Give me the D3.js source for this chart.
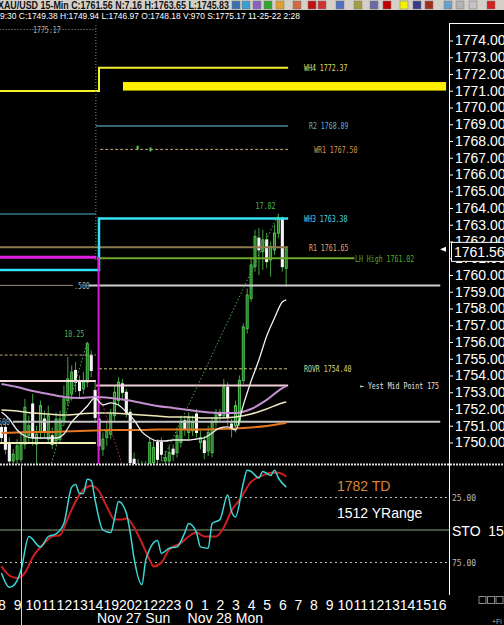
<!DOCTYPE html>
<html>
<head>
<meta charset="utf-8">
<script src="https://cdn.jsdelivr.net/npm/d3@7"></script>
<style>
  body { margin: 0; background: #000; overflow: hidden; }
  svg { display: block; font-family: "Liberation Sans", Arial, sans-serif; }
</style>
</head>
<body>
<svg id="chart" width="504" height="625"></svg>
<script>
// XAU/USD 15-min bars, Fri 25 Nov 8:00 -> Mon 28 Nov 6:00
var barOpen  = [1750.9,1750.9,1750.0,1748.9,1749.0,1749.0,1749.9,1750.4,1752.3,1749.9,1750.6,1751.4,1750.2,1750.4,1750.1,1750.2,1751.3,1752.5,1752.9,1754.3,1753.7,1753.2,1753.6,1755.2,1753.1,
                1751.4,1749.6,1750.3,1750.5,1751.6,1752.5,1753.5,1753.0,1751.8,1749.0,1748.2,1748.6,1748.0,1748.7,1748.8,1750.0,1750.0,1748.9,1748.9,1749.6,1749.4,1750.0,1751.3,1750.6,
                1750.7,1751.7,1750.0,1750.1,1749.5,1749.4,1751.2,1751.8,1751.6,1753.3,1751.1,1751.0,1751.3,1753.7,1756.8,1758.6,1760.5,1762.2,1761.4,1762.1,1760.9,1761.5,1762.5,1763.3,1760.4];
var barHigh  = [1751.1,1751.2,1750.3,1749.6,1750.2,1750.6,1752.6,1751.6,1752.9,1751.0,1752.5,1751.9,1752.2,1750.9,1751.8,1751.9,1753.4,1755.1,1754.6,1754.8,1754.0,1754.2,1756.0,1755.5,1753.6,
                1751.8,1750.6,1751.2,1752.0,1753.4,1753.9,1753.8,1753.2,1752.0,1749.4,1749.0,1748.9,1748.9,1750.3,1750.2,1750.2,1750.3,1749.5,1749.8,1749.9,1750.9,1751.6,1751.6,1751.8,
                1751.6,1752.0,1750.7,1750.4,1751.0,1751.5,1752.0,1752.0,1753.8,1753.6,1751.4,1752.5,1754.0,1757.1,1759.2,1761.0,1762.7,1762.8,1762.7,1762.5,1762.0,1763.0,1763.65,1763.5,1761.7];
var barLow   = [1750.0,1749.3,1748.5,1748.3,1748.7,1748.8,1749.6,1750.0,1749.8,1745.75,1750.2,1750.3,1749.9,1749.6,1749.8,1749.9,1751.0,1752.2,1752.5,1753.0,1752.6,1752.9,1753.3,1753.9,1751.2,
                1749.5,1749.2,1749.8,1750.2,1751.3,1752.2,1752.6,1751.5,1748.3,1748.0,1745.83,1747.6,1747.6,1748.5,1748.6,1748.7,1748.9,1748.5,1748.6,1748.9,1749.1,1749.7,1750.4,1750.2,
                1750.4,1750.3,1749.6,1749.0,1749.2,1749.1,1750.9,1751.3,1751.4,1751.0,1750.3,1750.6,1751.0,1753.5,1756.5,1758.4,1760.2,1760.0,1760.3,1760.4,1759.9,1761.2,1762.2,1760.2,1759.3];
var barClose = [1750.3,1749.6,1748.9,1749.3,1749.8,1750.0,1752.1,1751.0,1750.3,1750.5,1752.2,1750.7,1751.6,1749.9,1751.4,1751.4,1752.6,1753.8,1754.2,1753.6,1753.1,1753.6,1755.9,1754.3,1751.5,
                1749.8,1750.2,1750.7,1751.7,1753.0,1753.6,1753.0,1751.8,1748.8,1748.6,1748.6,1748.0,1748.5,1750.0,1749.7,1749.0,1749.3,1749.1,1749.4,1749.3,1750.4,1751.2,1750.8,1751.5,
                1751.2,1750.6,1750.3,1749.4,1750.6,1751.2,1751.8,1751.6,1753.3,1751.5,1750.9,1752.2,1753.7,1756.9,1758.8,1760.6,1762.3,1761.5,1762.1,1760.8,1761.7,1762.5,1763.4,1760.5,1761.56];

// moving averages, read every hour (slow) or every half hour (fast)
var maBars   = [0,4,8,12,16,20,24,28,32,36,40,44,48,52,56,60,64,68,72,73];
var maPurple = [1753.49,1753.31,1753.07,1752.90,1752.72,1752.66,1752.72,1752.66,1752.54,1752.36,1752.18,1752.06,1751.94,1751.82,1751.76,1751.76,1752.00,1752.54,1753.25,1753.37];
var maCream  = [1751.94,1751.88,1751.76,1751.70,1751.64,1751.70,1751.76,1751.76,1751.70,1751.64,1751.58,1751.52,1751.52,1751.46,1751.46,1751.52,1751.70,1752.00,1752.36,1752.42];
var maOrange = [1750.57,1750.60,1750.63,1750.63,1750.66,1750.69,1750.72,1750.75,1750.75,1750.75,1750.78,1750.78,1750.78,1750.78,1750.81,1750.84,1750.90,1750.99,1751.13,1751.16];
var fastBars = [0,2,4,6,8,10,12,14,16,18,20,22,24,26,28,30,32,34,36,38,40,42,44,46,48,50,52,54,56,58,60,62,64,66,68,70,72,73];
var maWhite  = [1751.82,1751.40,1750.75,1750.39,1750.27,1750.27,1750.27,1750.27,1750.51,1751.22,1751.70,1752.18,1752.66,1752.24,1752.36,1752.24,1751.82,1751.34,1750.63,1750.27,
                1750.09,1750.09,1750.15,1750.15,1750.15,1750.21,1750.27,1750.57,1750.87,1750.93,1750.75,1752.24,1753.67,1754.93,1756.36,1757.43,1758.39,1758.51];

// stochastic 15 (%K cyan, %D red)
var kBars = [0,2,3,5,7,10,12,14,16,18,19,20,21,22,23,24,26,28,29,30,32,33,34,36,37,40,41,43,45,47,48,50,51,53,54,56,58,59,60,62,63,64,66,67,69,70,71,73];
var kVals = [83,94,93,81,55,63,55,53,45,17,15,22,22,11,12,27,50,52,41,28,37,52,72,92,73,58,68,64,63,52,45,52,63,64,45,42,23,36,40,14,4,5,10,5,8,4,10,17];
var dBars = [0,2,4,6,8,11,13,15,17,19,21,23,25,27,29,31,32,34,36,38,39,41,43,46,48,50,52,55,57,59,61,64,67,69,71,73];
var dVals = [78,85,87,83,71,60,55,54,41,28,19,16,20,32,42,42,41,48,60,73,78,75,65,60,55,52,55,55,48,35,27,13,8,6,6,9];

// weekly levels that step up at the Sunday open
var stepNames = ['WH4', 'WH3'];
var stepPrev  = [1770.98, 1760.30];
var stepNow   = [1772.37, 1763.38];
var sessionBar = 25;

// flat levels: price, first bar, last bar
var levelNames = ['R2', 'WR1', 'R1', 'LH High', 'ROVR', 'Yest Mid', 'prevTeal', 'prevMagenta', 'prevDash', 'prevMid', 'prevLow', 'fib500L', 'fib500', 'fib500b', 'sHigh'];
var levelVals  = [1768.89, 1767.50, 1761.65, 1761.00, 1754.40, 1753.40, 1763.64, 1761.06, 1755.22, 1753.67, 1749.97, 1759.38, 1759.38, 1751.24, 1775.17];
var levelFrom  = [24.2, 25.3, -0.5, 24.5, 25, 24.3, -0.5, -0.5, -0.5, -0.5, -0.5, -0.5, 22.4, 2.95, -0.5];
var levelTo    = [73.5, 73.5, 73.5, 90.5, 73.5, 73.5, 24.2, 24.3, 24.2, 24.2, 24.2, 18.3, 112.5, 112.5, 24.2];
var levelText  = ['R2 1768.89', 'WR1 1767.50', 'R1 1761.65', 'LH High 1761.02', 'ROVR 1754.40', '\u2190 Yest Mid Point 175', '', '', '', '', '', '', '.500', '500', '1775.17'];
var stepText   = ['WH4 1772.37', 'WH3 1763.38'];

// highlighted zone
var zoneTop = 1771.52, zoneBottom = 1771.01, zoneFrom = 31.15, zoneTo = 114;

// swings: from bar/price to bar/price
var swingFromBar = [9, 24, 35];
var swingFromVal = [1745.75, 1753.6, 1745.83];
var swingToBar   = [22, 35, 71];
var swingToVal   = [1756.0, 1745.83, 1763.65];
var swingText    = ['10.25', '', '17.82'];

var markBars = [34.9, 38.2];
var markVals = [1767.6, 1767.5];

var hourLabels = ['8','9','10','11','12','13','14','19','20','21','22','23','0','1','2','3','4','5','6','7','8','9','10','11','12','13','14','15','16'];
var dateLabels = ['Nov 27 Sun', 'Nov 28 Mon'];
var dateBars   = [24.5, 47.7];
var priceTicks = d3.range(1750, 1775);
var stochTicks = [25, 75];
var lastPrice  = 1761.56;

var titleText  = 'XAU/USD 15-Min C:1761.56 N:7.16 H:1763.65 L:1745.83';
var cursorText = '9:30 C:1749.38 H:1749.94 L:1746.97 O:1748.18 V:970 S:1775.17 11-25-22 2:28';

// ---------------------------------------------------------------------
var W = 504, H = 625;
var mono = '"DejaVu Sans Mono", monospace';
var svg = d3.select('#chart');
svg.append('rect').attr('width', W).attr('height', H).attr('fill', '#000');

var x  = d3.scaleLinear().domain([0, 73]).range([1.5, 286.2]);
var y  = d3.scaleLinear().domain([1750, 1774]).range([442.5, 40.5]);
var ys = d3.scaleLinear().domain([0, 100]).range([465, 595]);

var defs = svg.append('defs');
defs.append('clipPath').attr('id', 'clipMain').append('rect').attr('x', 0).attr('y', 21).attr('width', 448).attr('height', 443);
defs.append('clipPath').attr('id', 'clipStoch').append('rect').attr('x', 0).attr('y', 466).attr('width', 448).attr('height', 129);

function monoLabel(g, px, py, str, color) {
    g.append('text').attr('x', px).attr('y', py).attr('dy', '0.35em')
        .attr('fill', color).attr('font-family', mono).attr('font-size', 9.5)
        .attr('textLength', str.length * 3.95).attr('lengthAdjust', 'spacingAndGlyphs')
        .text(str);
}

var main = svg.append('g').attr('clip-path', 'url(#clipMain)');

// candles
var bars = d3.range(barOpen.length);
var cg = main.append('g');
cg.selectAll('line').data(bars).join('line')
    .attr('x1', function(i){ return x(i); }).attr('x2', function(i){ return x(i); })
    .attr('y1', function(i){ return y(barHigh[i]); }).attr('y2', function(i){ return y(barLow[i]); })
    .attr('stroke', '#44a044').attr('stroke-width', 1);
cg.selectAll('rect').data(bars).join('rect')
    .attr('x', function(i){ return x(i) - 1; }).attr('width', 2)
    .attr('y', function(i){ return y(Math.max(barOpen[i], barClose[i])); })
    .attr('height', function(i){ return Math.max(1, Math.abs(y(barOpen[i]) - y(barClose[i]))); })
    .attr('fill', function(i){ return barClose[i] >= barOpen[i] ? '#1f6e1f' : '#f4f4f4'; })
    .attr('stroke', function(i){ return barClose[i] >= barOpen[i] ? '#4fc04f' : '#ffffff'; })
    .attr('stroke-width', 1);

// yellow zone
main.append('rect')
    .attr('x', x(zoneFrom)).attr('width', x(zoneTo) - x(zoneFrom))
    .attr('y', y(zoneTop)).attr('height', y(zoneBottom) - y(zoneTop))
    .attr('fill', '#ffef00');

// level styles
var levelStyle = {
    'R2':          {stroke: '#4d8796', width: 1.5, label: '#5fb3d6', lx: 309},
    'WR1':         {stroke: '#cfa583', width: 1, dash: '3,2', label: '#dc9450', lx: 314},
    'R1':          {stroke: '#8c7a4e', width: 2, label: '#e3a87c', lx: 309},
    'LH High':     {stroke: '#6ea82e', width: 2, label: '#55ad2d', lx: 355},
    'ROVR':        {stroke: '#cbc47a', width: 1, dash: '3,2', label: '#ddd58a', lx: 304},
    'Yest Mid':    {stroke: '#f2cfd6', width: 2, label: '#e6e6e6', lx: 360},
    'prevTeal':    {stroke: '#4eb4c4', width: 1},
    'prevMagenta': {stroke: '#e01fe0', width: 3},
    'prevDash':    {stroke: '#b9a979', width: 1, dash: '3,2'},
    'prevMid':     {stroke: '#f2dcdc', width: 2},
    'prevLow':     {stroke: '#f2efb6', width: 2},
    'fib500L':     {stroke: '#9a8c78', width: 1},
    'fib500':      {stroke: '#cdcdcd', width: 2, label: '#b8b8b8', lx: 74},
    'fib500b':     {stroke: '#c4c4c4', width: 2, label: '#b0b0b0', lx: -2},
    'sHigh':       {stroke: '#9a9a9a', width: 1, dash: '1,2', label: '#b0b0b0', lx: 33}
};
var stepStyle = {
    'WH4': {stroke: '#f4f02a', width: 2, label: '#e2dc64', lx: 304},
    'WH3': {stroke: '#34e4f4', width: 2.5, label: '#4ed6e8', lx: 304}
};

var lg = svg.append('g');
levelNames.forEach(function(name, k) {
    var st = levelStyle[name];
    // the S: level sits above the plotted range, the chart pins it under the top edge
    var ly = name === 'sHigh' ? Math.max(y(levelVals[k]), 29.5) : y(levelVals[k]);
    main.append('line')
        .attr('x1', x(levelFrom[k])).attr('x2', x(levelTo[k]))
        .attr('y1', ly).attr('y2', ly)
        .attr('stroke', st.stroke).attr('stroke-width', st.width)
        .attr('stroke-dasharray', st.dash || null);
    if (levelText[k]) monoLabel(lg, st.lx, ly, levelText[k], st.label);
});

var stepLine = d3.line().x(function(d){ return x(d[0]); }).y(function(d){ return y(d[1]); }).curve(d3.curveStepAfter);
stepNames.forEach(function(name, k) {
    var st = stepStyle[name];
    main.append('path')
        .attr('d', stepLine([[-0.5, stepPrev[k]], [sessionBar, stepNow[k]], [73.5, stepNow[k]]]))
        .attr('fill', 'none').attr('stroke', st.stroke).attr('stroke-width', st.width);
    monoLabel(lg, st.lx, y(stepNow[k]), stepText[k], st.label);
});

// session separators
main.append('line').attr('x1', x(24.2)).attr('x2', x(24.2)).attr('y1', 25).attr('y2', 262)
    .attr('stroke', '#8a8a8a').attr('stroke-dasharray', '1,2');
main.append('line').attr('x1', x(24.9)).attr('x2', x(24.9)).attr('y1', y(1761.06)).attr('y2', 464)
    .attr('stroke', '#d41cd4').attr('stroke-width', 2);

// small marks near WR1
main.selectAll('rect.mark').data(markBars).join('rect').attr('class', 'mark')
    .attr('x', function(d){ return x(d) - 1; }).attr('width', 2)
    .attr('y', function(d, k){ return y(markVals[k]) - 2; }).attr('height', 4)
    .attr('fill', '#5ccc4c');

// moving averages
function maLine(idx, vals) {
    return d3.line().x(function(d){ return x(d); }).y(function(d, k){ return y(vals[k]); }).curve(d3.curveMonotoneX)(idx);
}
main.append('path').attr('d', maLine(maBars, maOrange)).attr('fill', 'none').attr('stroke', '#e4761f').attr('stroke-width', 2);
main.append('path').attr('d', maLine(maBars, maCream)).attr('fill', 'none').attr('stroke', '#efe9bd').attr('stroke-width', 1.5);
main.append('path').attr('d', maLine(maBars, maPurple)).attr('fill', 'none').attr('stroke', '#c48ed0').attr('stroke-width', 2);
main.append('path').attr('d', maLine(fastBars, maWhite)).attr('fill', 'none').attr('stroke', '#f2f2f2').attr('stroke-width', 1.3);

// swing lines
swingFromBar.forEach(function(b, k) {
    var up = swingToVal[k] > swingFromVal[k];
    main.append('line')
        .attr('x1', x(b)).attr('y1', y(swingFromVal[k]))
        .attr('x2', x(swingToBar[k])).attr('y2', y(swingToVal[k]))
        .attr('stroke', up ? '#4fa84f' : '#c0305a').attr('stroke-width', 1)
        .attr('stroke-dasharray', '1.5,2');
    if (swingText[k]) {
        main.append('text').attr('x', x(swingToBar[k]) - 3).attr('y', y(swingToVal[k]) - 5)
            .attr('text-anchor', 'end').attr('fill', '#56b456')
            .attr('font-family', mono).attr('font-size', 9.5)
            .attr('textLength', swingText[k].length * 4).attr('lengthAdjust', 'spacingAndGlyphs')
            .text(swingText[k]);
    }
});

// price axis
var ga = svg.append('g').attr('transform', 'translate(449,0)')
    .call(d3.axisRight(y).tickValues(priceTicks).tickFormat(d3.format('.2f')).tickSize(4).tickPadding(2));
ga.select('.domain').remove();
ga.attr('font-size', 14).attr('font-family', '"Liberation Sans", Arial, sans-serif');
ga.selectAll('text').attr('fill', '#fff');
ga.selectAll('line').attr('stroke', '#fff');

svg.append('line').attr('x1', 449.5).attr('x2', 449.5).attr('y1', 23).attr('y2', 595).attr('stroke', '#fff');
svg.append('line').attr('x1', 449).attr('x2', 504).attr('y1', 23.5).attr('y2', 23.5).attr('stroke', '#fff');

// last price box
var py = y(lastPrice) + 3;
svg.append('rect').attr('x', 451.5).attr('y', py - 9.5).attr('width', 56).attr('height', 19)
    .attr('fill', '#000').attr('stroke', '#fff');
svg.append('text').attr('x', 454).attr('y', py + 5).attr('fill', '#fff').attr('font-size', 14).text(d3.format('.2f')(lastPrice));
svg.append('path').attr('d', 'M440,' + (py - 2.5) + 'l6,-2.5v5z').attr('fill', '#fff');

// ---------------- stochastic panel
svg.append('line').attr('x1', 0).attr('x2', W).attr('y1', 464.5).attr('y2', 464.5)
    .attr('stroke', '#dedede').attr('stroke-width', 2).attr('stroke-dasharray', '2,1');
stochTicks.forEach(function(v) {
    svg.append('line').attr('x1', 0).attr('x2', 447).attr('y1', ys(v)).attr('y2', ys(v))
        .attr('stroke', '#bdbdbd').attr('stroke-dasharray', '2,3');
});
svg.append('line').attr('x1', 0).attr('x2', 449).attr('y1', ys(50)).attr('y2', ys(50)).attr('stroke', '#8ea878');

var gs = svg.append('g').attr('transform', 'translate(449,0)')
    .call(d3.axisRight(ys).tickValues(stochTicks).tickFormat(d3.format('.2f')).tickSize(0).tickPadding(3));
gs.select('.domain').remove();
gs.attr('font-size', 8).attr('font-family', mono);
gs.selectAll('text').attr('fill', '#bbb');

var sto = svg.append('g').attr('clip-path', 'url(#clipStoch)');
function stoLine(idx, vals) {
    return d3.line().x(function(d){ return x(d); }).y(function(d, k){ return ys(vals[k]); }).curve(d3.curveMonotoneX)(idx);
}
sto.append('path').attr('d', stoLine(dBars, dVals)).attr('fill', 'none').attr('stroke', '#cc1f1f').attr('stroke-width', 2);
sto.append('path').attr('d', stoLine(kBars, kVals)).attr('fill', 'none').attr('stroke', '#3cd6d6').attr('stroke-width', 1.5);

svg.append('text').attr('x', 337).attr('y', 491).attr('fill', '#dc8430').attr('font-size', 14).text('1782 TD');
svg.append('text').attr('x', 337).attr('y', 518).attr('fill', '#fff').attr('font-size', 14).text('1512 YRange');
svg.append('text').attr('x', 452).attr('y', 536).attr('fill', '#fff').attr('font-size', 14)
    .style('white-space', 'pre').text('STO  15,5');

// cursor line
svg.append('line').attr('x1', 21.5).attr('x2', 21.5).attr('y1', 466).attr('y2', H).attr('stroke', '#cfcfcf');

// ---------------- time axis
var gx = svg.append('g').attr('transform', 'translate(0,598)')
    .call(d3.axisBottom(x).tickValues(hourLabels.map(function(d, k){ return 4 * k; }))
        .tickFormat(function(d, k){ return hourLabels[k]; }).tickSize(0).tickPadding(2));
gx.select('.domain').remove();
gx.attr('font-size', 14).attr('font-family', '"Liberation Sans", Arial, sans-serif');
gx.selectAll('text').attr('fill', '#fff');

svg.selectAll('text.date').data(dateLabels).join('text').attr('class', 'date')
    .attr('x', function(d, k){ return x(dateBars[k]); }).attr('y', 623)
    .attr('fill', '#fff').attr('font-size', 14).text(function(d){ return d; });

[479, 487.5, 496].forEach(function(bx) {
    svg.append('rect').attr('x', bx).attr('y', 596.5).attr('width', 7).attr('height', 7)
        .attr('fill', 'none').attr('stroke', '#8a8a8a');
});
svg.append('text').attr('x', 492).attr('y', 624).attr('fill', '#aaa').attr('font-size', 7).text('+Fi');

// ---------------- header rows
svg.append('rect').attr('width', W).attr('height', 10).attr('fill', '#d4d0c8');
svg.append('text').attr('x', -2).attr('y', 8.5).attr('fill', '#111').attr('font-size', 10).attr('font-weight', 'bold')
    .attr('textLength', 231).attr('lengthAdjust', 'spacingAndGlyphs').text(titleText);
var iconX = [236, 246, 257, 268, 280, 297, 312, 322, 340, 358, 374, 387, 404, 417, 429, 448, 460, 473, 491];
var iconC = ['#3c6fb0', '#3a9fd0', '#8a60c0', '#2fa62f', '#e0a030', '#d06a40', '#c01010', '#d03030', '#5070c0', '#a0a040', '#6a6aa8', '#c00000', '#f4f000', '#3a3a8a', '#a03020', '#6aa0d0', '#b4b4b4', '#c4c4c4', '#d42020'];
iconX.forEach(function(ix, k) {
    svg.append('rect').attr('x', ix - 4).attr('y', 1).attr('width', 8).attr('height', 8)
        .attr('fill', iconC[k]).attr('stroke', '#777').attr('stroke-width', 0.5);
});
svg.append('text').attr('x', 0).attr('y', 18.5).attr('fill', '#fff').attr('font-size', 9.5)
    .attr('textLength', 300).attr('lengthAdjust', 'spacingAndGlyphs').text(cursorText);
</script>
</body>
</html>
